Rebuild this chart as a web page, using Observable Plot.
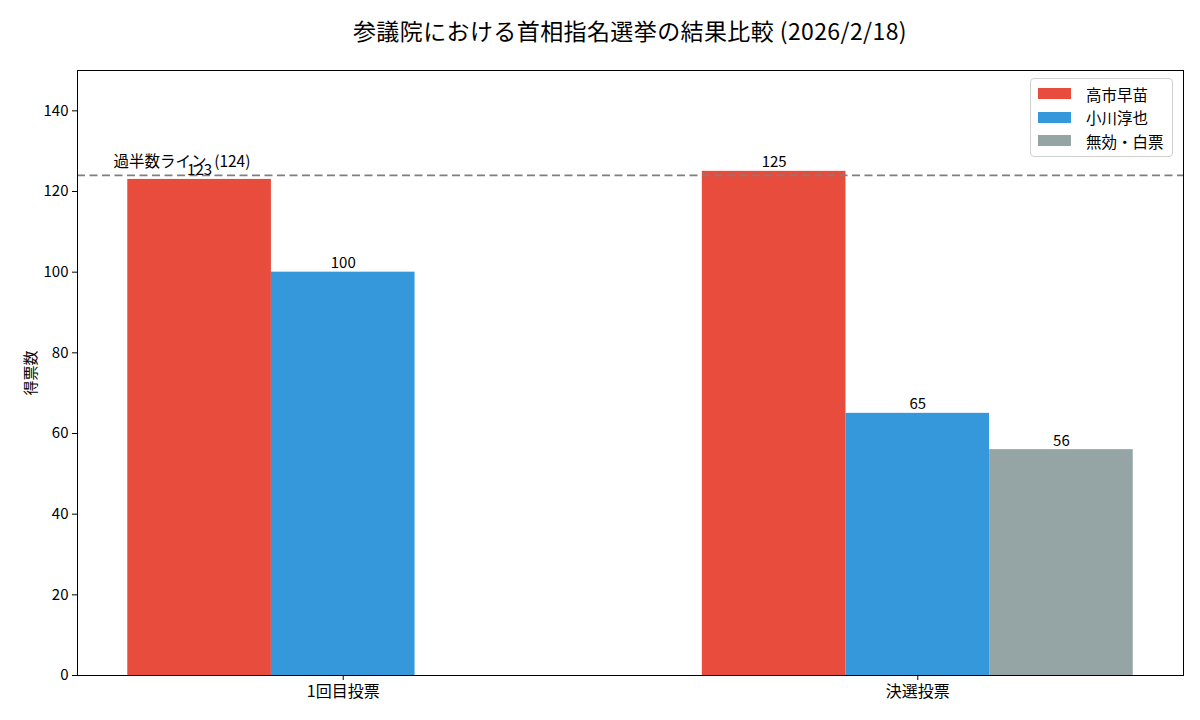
<!DOCTYPE html>
<html>
<head>
<meta charset="utf-8">
<script src="https://cdn.jsdelivr.net/npm/d3@7"></script>
<script src="https://cdn.jsdelivr.net/npm/@observablehq/plot@0.6"></script>
<style>
  body { margin: 0; background: #fff; font-family: "Noto Sans CJK JP", "Noto Sans", sans-serif; }
  #wrap { position: relative; width: 1200px; height: 720px; }
  #title { box-sizing: border-box; width: 1200px; height: 50px; padding-left: 60px; padding-top: 14px;
           text-align: center; font-size: 23px; color: #000; line-height: 32px; white-space: nowrap; letter-spacing: 0.4px; }
  #legend { position: absolute; left: 1030px; top: 78px; width: 143px; box-sizing: border-box;
            background: rgba(255,255,255,0.8); border: 1px solid #d0d0d0; border-radius: 4px;
            padding: 3px 4px 3px 7px; font-size: 15.5px; }
  .row { display: flex; align-items: center; height: 23.5px; white-space: nowrap; }
  .sw { width: 33px; height: 11px; margin-right: 15px; flex: none; }
</style>
</head>
<body>
<div id="wrap">
  <div id="title">参議院における首相指名選挙の結果比較 (2026/2/18)</div>
  <div id="chart"></div>
  <div id="legend"></div>
</div>
<script>
const rounds = ["1回目投票", "決選投票"];
const seriesNames = ["高市早苗", "小川淳也", "無効・白票"];
const takaichi = [123, 125];
const ogawa = [100, 65];
const invalid = [null, 56];
const colors = ["#e74c3c", "#3498db", "#95a5a6"];
const majority = 124;
const majorityLabel = "過半数ライン\u2002(124)";
const yTicks = [0, 20, 40, 60, 80, 100, 120, 140];

const values = [takaichi, ogawa, invalid];
const barWidth = 0.25;
const rows = [];
values.forEach((vals, k) => {
  vals.forEach((v, i) => {
    if (v == null) return;
    const c = i + (k - 1) * barWidth;
    rows.push({series: seriesNames[k], x1: c - barWidth / 2, x2: c + barWidth / 2, xc: c, y: v});
  });
});

const plot = Plot.plot({
  width: 1200,
  height: 670,
  marginTop: 20,
  marginBottom: 45,
  marginLeft: 77,
  marginRight: 17,
  style: {fontFamily: '"Noto Sans CJK JP", "Noto Sans", sans-serif', fontSize: "15px", color: "#000", background: "#fff"},
  x: {domain: [-0.4625, 1.4625]},
  y: {domain: [0, 150]},
  color: {domain: seriesNames, range: colors},
  marks: [
    Plot.rectY(rows, {x1: "x1", x2: "x2", y: "y", fill: "series"}),
    Plot.ruleY([majority], {stroke: "#7f7f7f", strokeWidth: 1.6, strokeDasharray: "8,4.5"}),
    Plot.text([majority], {x: () => -0.4, y: d => d + 2, text: () => majorityLabel, textAnchor: "start", lineAnchor: "bottom", fontSize: 15.5, fill: "#000"}),
    Plot.text(rows, {x: "xc", y: d => d.y + 1, text: d => String(d.y), lineAnchor: "bottom", fontSize: 15, fill: "#000"}),
    Plot.frame({stroke: "#000", strokeWidth: 1}),
    Plot.axisY({ticks: yTicks, tickSize: 5, tickPadding: 4, label: "得票数", labelAnchor: "center", labelArrow: "none", labelOffset: 52, fontSize: 15}),
    Plot.axisX({ticks: [0, 1], tickFormat: i => rounds[i], tickSize: 5, tickPadding: 5, label: null, fontSize: 16})
  ]
});
document.getElementById("chart").appendChild(plot);

const leg = document.getElementById("legend");
seriesNames.forEach((n, k) => {
  const r = document.createElement("div");
  r.className = "row";
  r.innerHTML = `<div class="sw" style="background:${colors[k]}"></div><span>${n}</span>`;
  leg.appendChild(r);
});
</script>
</body>
</html>
